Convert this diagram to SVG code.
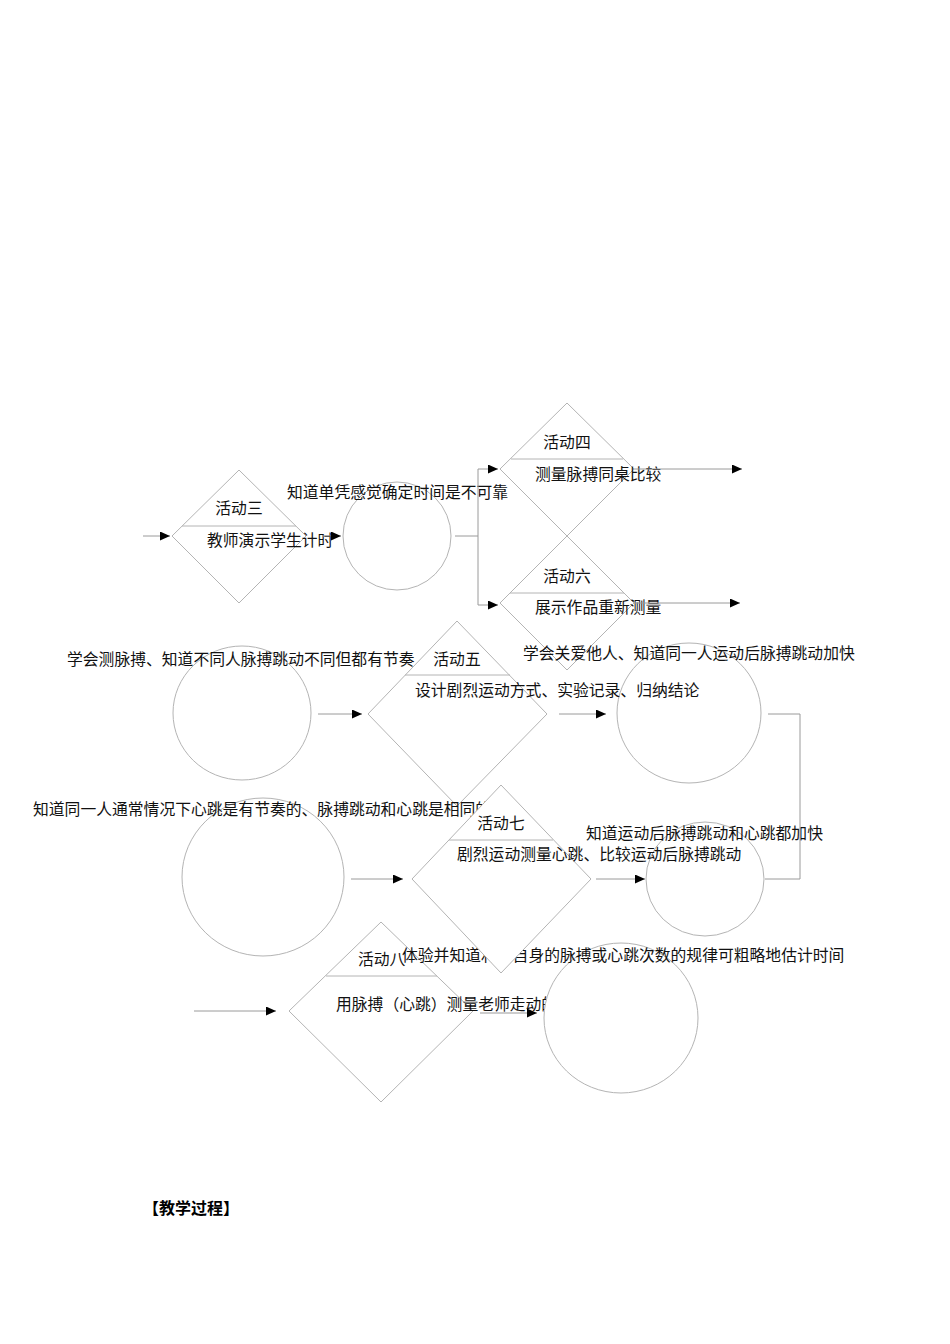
<svg xmlns="http://www.w3.org/2000/svg" width="950" height="1344" viewBox="0 0 950 1344">
<style>
.s{fill:#fff;stroke:#b4b4b4;stroke-width:1}
.t{font-family:"Liberation Serif","Noto Sans CJK SC",serif;font-size:15.8px;fill:#111}
.m{text-anchor:middle}
.c{fill:none;stroke:#9a9a9a;stroke-width:1}
.h{font-family:"Liberation Sans","Noto Sans CJK SC",sans-serif;font-size:16px;font-weight:bold;fill:#000}
</style>
<defs>
<marker id="ar" markerUnits="userSpaceOnUse" markerWidth="11" markerHeight="9" refX="10" refY="4.5" orient="auto">
<path d="M0,0 L10,4.5 L0,9 Z" fill="#000"/>
</marker>
</defs>
<rect width="950" height="1344" fill="#fff"/>

<g id="act3">
<path class="s" d="M239,470 L306,536 L239,603 L172,536 Z"/>
<line class="s" x1="182" y1="526" x2="296" y2="526"/>
<text class="t m" x="239" y="514">活动三</text>
<text class="t" x="207" y="546">教师演示学生计时</text>
</g>
<g id="circle1">
<ellipse class="s" cx="397" cy="536" rx="54" ry="54"/>
<text class="t" x="287" y="498">知道单凭感觉确定时间是不可靠</text>
</g>
<g id="act4">
<path class="s" d="M567,403 L634,469 L567,536 L500,469 Z"/>
<line class="s" x1="511" y1="459" x2="623" y2="459"/>
<text class="t m" x="567" y="448">活动四</text>
<text class="t" x="535" y="480">测量脉搏同桌比较</text>
</g>
<g id="act6">
<path class="s" d="M567,536 L634,603 L567,670 L500,603 Z"/>
<line class="s" x1="510" y1="593" x2="624" y2="593"/>
<text class="t m" x="567" y="582">活动六</text>
<text class="t" x="535" y="613">展示作品重新测量</text>
</g>
<g id="circle2">
<ellipse class="s" cx="242" cy="713" rx="69" ry="67"/>
<text class="t" x="67" y="665">学会测脉搏、知道不同人脉搏跳动不同但都有节奏</text>
</g>
<g id="circle3">
<ellipse class="s" cx="689" cy="713" rx="72" ry="70"/>
<text class="t" x="523" y="659">学会关爱他人、知道同一人运动后脉搏跳动加快</text>
</g>
<g id="act5">
<path class="s" d="M457,621 L547,714 L457,806 L368,714 Z"/>
<line class="s" x1="405" y1="675" x2="510" y2="675"/>
<text class="t m" x="457" y="665">活动五</text>
<text class="t" x="415" y="696">设计剧烈运动方式、实验记录、归纳结论</text>
</g>
<g id="circle4">
<ellipse class="s" cx="705" cy="879" rx="59" ry="57"/>
<text class="t" x="586" y="839">知道运动后脉搏跳动和心跳都加快</text>
</g>
<g id="circle5">
<ellipse class="s" cx="263" cy="877" rx="81" ry="79"/>
<text class="t" x="33" y="815">知道同一人通常情况下心跳是有节奏的、脉搏跳动和心跳是相同的</text>
</g>
<g id="act8">
<path class="s" d="M381,922 L473,1011 L381,1102 L289,1011 Z"/>
<line class="s" x1="326" y1="976" x2="437" y2="976"/>
<text class="t" x="358" y="965">活动八</text>
<text class="t" x="336" y="1010">用脉搏（心跳）测量老师走动的时间</text>
</g>
<g id="circle6">
<ellipse class="s" cx="621" cy="1018" rx="77" ry="75"/>
<text class="t" x="402" y="961">体验并知道利用自身的脉搏或心跳次数的规律可粗略地估计时间</text>
</g>
<g id="act7">
<path class="s" d="M501,785 L591,879 L501,973 L412,879 Z"/>
<line class="s" x1="449" y1="840" x2="553" y2="840"/>
<text class="t m" x="501" y="829">活动七</text>
<text class="t" x="457" y="860">剧烈运动测量心跳、比较运动后脉搏跳动</text>
</g>

<g id="connectors">
<line class="c" x1="143" y1="536" x2="170" y2="536" marker-end="url(#ar)"/>
<line class="c" x1="322" y1="536" x2="341" y2="536" marker-end="url(#ar)"/>
<path class="c" d="M455,536 H478 V469 H498" marker-end="url(#ar)"/>
<path class="c" d="M478,536 V605 H498" marker-end="url(#ar)"/>
<line class="c" x1="634" y1="469" x2="742" y2="469" marker-end="url(#ar)"/>
<line class="c" x1="634" y1="603" x2="740" y2="603" marker-end="url(#ar)"/>
<line class="c" x1="318" y1="714" x2="362" y2="714" marker-end="url(#ar)"/>
<line class="c" x1="559" y1="714" x2="606" y2="714" marker-end="url(#ar)"/>
<path class="c" d="M768,714 H800 V879 H765"/>
<line class="c" x1="351" y1="879" x2="403" y2="879" marker-end="url(#ar)"/>
<line class="c" x1="596" y1="879" x2="645" y2="879" marker-end="url(#ar)"/>
<line class="c" x1="194" y1="1011" x2="276" y2="1011" marker-end="url(#ar)"/>
<line class="c" x1="480" y1="1013" x2="537" y2="1013" marker-end="url(#ar)"/>
</g>

<text class="h" x="143" y="1214">【教学过程】</text>
</svg>
